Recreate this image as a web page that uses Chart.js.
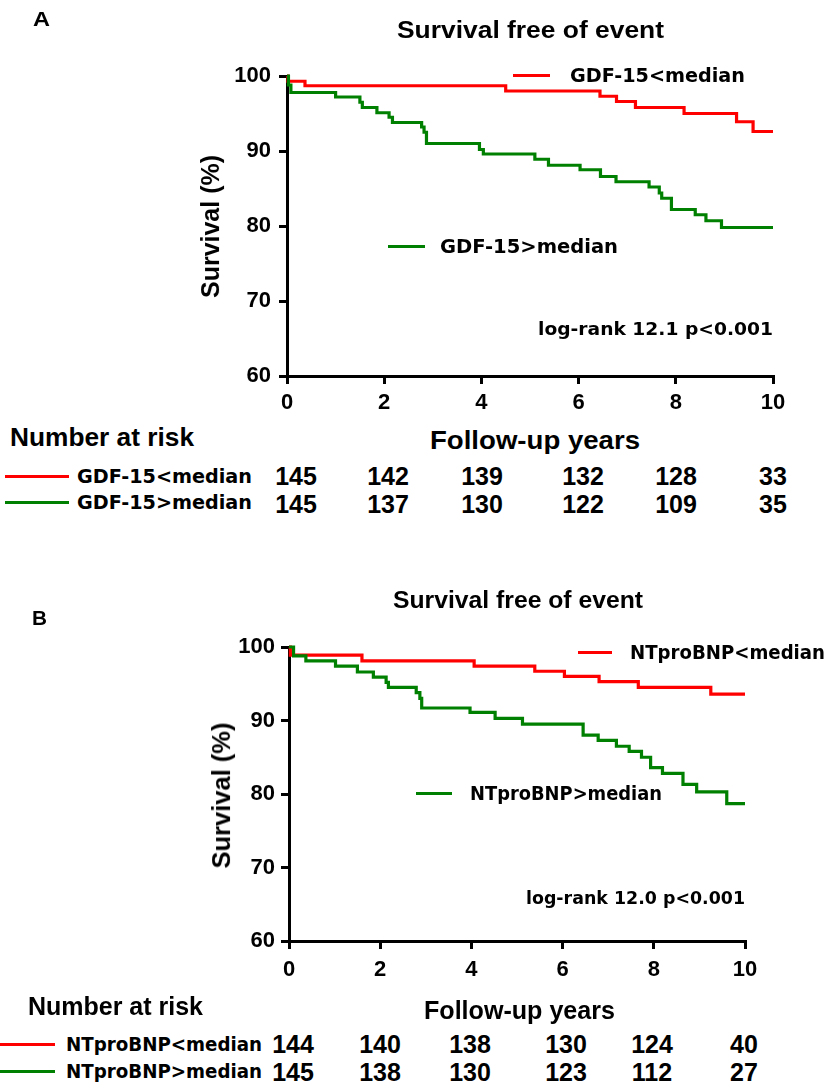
<!DOCTYPE html>
<html>
<head>
<meta charset="utf-8">
<script src="https://cdn.jsdelivr.net/npm/chart.js@4.4.1/dist/chart.umd.min.js"></script>
<style>
  html, body { margin: 0; padding: 0; background: #fff; }
  #wrap { position: relative; width: 827px; height: 1084px; overflow: hidden; background: #fff; }
  canvas { position: absolute; left: 0; }
  .t { position: absolute; white-space: nowrap; font-weight: bold; color: #000; line-height: 1; }
  .ln { position: absolute; height: 3px; }
</style>
</head>
<body>
<div id="wrap">
  <canvas id="cA" width="827" height="420" style="top:0px"></canvas>
  <canvas id="cB" width="827" height="440" style="top:560px"></canvas>
</div>
<script>
// ---------------- DATA ----------------
const xTicks = [0, 2, 4, 6, 8, 10];
const yTicks = [60, 70, 80, 90, 100];

// Panel A: GDF-15
const timeA_low  = [0, 0.02, 0.37, 4.5, 6.44, 6.78, 7.17, 8.17, 9.25, 9.59, 10];
const survA_low  = [100, 99.3, 98.7, 98.0, 97.3, 96.6, 95.8, 95.0, 93.9, 92.6, 92.6];
const timeA_high = [0, 0.03, 0.08, 1.0, 1.5, 1.55, 1.85, 2.1, 2.17, 2.77, 2.82, 2.87, 3.96, 4.04, 5.1, 5.38, 6.03, 6.45, 6.77, 7.45, 7.66, 7.71, 7.91, 8.4, 8.62, 8.94, 10];
const survA_high = [100, 98.8, 97.8, 97.2, 96.5, 95.8, 95.1, 94.5, 93.8, 93.2, 92.5, 91.0, 90.2, 89.6, 88.9, 88.1, 87.5, 86.6, 85.9, 85.2, 84.4, 83.7, 82.2, 81.5, 80.7, 79.8, 79.8];

// Panel B: NTproBNP
const timeB_low  = [0, 0.03, 1.6, 4.06, 5.39, 6.04, 6.8, 7.66, 9.25, 10];
const survB_low  = [100, 98.9, 98.1, 97.4, 96.7, 96.0, 95.3, 94.5, 93.6, 93.6];
const timeB_high = [0, 0.1, 0.37, 1.02, 1.5, 1.85, 2.13, 2.18, 2.79, 2.87, 2.91, 3.97, 4.52, 5.12, 6.45, 6.78, 7.18, 7.46, 7.73, 7.93, 8.19, 8.64, 8.94, 9.6, 10];
const survB_high = [100, 98.8, 98.1, 97.4, 96.6, 95.9, 95.2, 94.5, 93.8, 93.0, 91.7, 91.1, 90.3, 89.5, 88.0, 87.3, 86.5, 85.8, 85.0, 83.6, 82.8, 81.3, 80.3, 78.7, 78.7];

// Number at risk
const riskA_low  = [145, 142, 139, 132, 128, 33];
const riskA_high = [145, 137, 130, 122, 109, 35];
const riskB_low  = [144, 140, 138, 130, 124, 40];
const riskB_high = [145, 138, 130, 123, 112, 27];

const labelA_low = 'GDF-15<median', labelA_high = 'GDF-15>median';
const labelB_low = 'NTproBNP<median', labelB_high = 'NTproBNP>median';

const RED = '#ff0000', GREEN = '#008000';

// ---------------- CHARTS ----------------
function pts(t, s) { return t.map((v, i) => ({ x: v, y: s[i] })); }

function makeChart(id, dsets, cfg) {
  const tickFont = { family: 'Liberation Sans, Arial, sans-serif', weight: 'bold', size: 22 };
  return new Chart(document.getElementById(id), {
    type: 'line',
    data: {
      datasets: dsets.map(d => ({
        data: pts(d.t, d.s), borderColor: d.c, backgroundColor: d.c, borderWidth: 3.2,
        stepped: 'before', pointRadius: 0, fill: false, clip: false, tension: 0
      }))
    },
    options: {
      responsive: false, animation: false, events: [],
      layout: { padding: cfg.pad },
      plugins: { legend: { display: false }, tooltip: { enabled: false }, title: { display: false } },
      scales: {
        x: {
          type: 'linear', min: 0, max: 10,
          afterBuildTicks: s => { s.ticks = xTicks.map(v => ({ value: v })); },
          ticks: { color: '#000', font: tickFont, padding: cfg.xPad, maxRotation: 0, autoSkip: false },
          grid: { drawOnChartArea: false, drawTicks: true, tickLength: 8, color: '#000', lineWidth: 3 },
          border: { color: '#000', width: 3 },
          afterFit: s => { s.height = cfg.xH; }
        },
        y: {
          type: 'linear', min: 60, max: 100,
          afterBuildTicks: s => { s.ticks = yTicks.map(v => ({ value: v })); },
          ticks: { color: '#000', font: tickFont, padding: cfg.yPad, autoSkip: false },
          grid: { drawOnChartArea: false, drawTicks: true, tickLength: 8, color: '#000', lineWidth: 3 },
          border: { color: '#000', width: 3 },
          afterFit: s => { s.width = cfg.yW; }
        }
      }
    }
  });
}

makeChart('cA', [
  { t: timeA_high, s: survA_high, c: GREEN },
  { t: timeA_low, s: survA_low, c: RED }
], { pad: { left: 200, right: 54, top: 76, bottom: 0 }, yW: 87, xH: 44, xPad: 6, yPad: 8 });

makeChart('cB', [
  { t: timeB_high, s: survB_high, c: GREEN },
  { t: timeB_low, s: survB_low, c: RED }
], { pad: { left: 200, right: 82, top: 87, bottom: 15 }, yW: 89, xH: 44, xPad: 8, yPad: 6 });

// ---------------- TEXT ----------------
const wrap = document.getElementById('wrap');
const ARIAL = 'Liberation Sans, Arial, sans-serif';
const VERD = 'DejaVu Sans, Verdana, sans-serif';

function fitText(str, x0, x1, cy, size, fam) {
  const e = document.createElement('div');
  e.className = 't'; e.textContent = str;
  e.style.fontSize = size + 'px'; e.style.fontFamily = fam;
  e.style.left = x0 + 'px'; e.style.top = (cy - size / 2) + 'px';
  wrap.appendChild(e);
  const w = e.getBoundingClientRect().width;
  e.style.transformOrigin = 'left center';
  e.style.transform = 'scaleX(' + ((x1 - x0) / w) + ')';
}
function centerText(str, cx, cy, size, fam) {
  const e = document.createElement('div');
  e.className = 't'; e.textContent = str;
  e.style.fontSize = size + 'px'; e.style.fontFamily = fam;
  wrap.appendChild(e);
  const w = e.getBoundingClientRect().width;
  e.style.left = (cx - w / 2) + 'px'; e.style.top = (cy - size / 2) + 'px';
}
function vertText(str, cx, cy, len, size, fam) {
  const e = document.createElement('div');
  e.className = 't'; e.textContent = str;
  e.style.fontSize = size + 'px'; e.style.fontFamily = fam;
  wrap.appendChild(e);
  const w = e.getBoundingClientRect().width;
  e.style.left = (cx - w / 2) + 'px'; e.style.top = (cy - size / 2) + 'px';
  e.style.transformOrigin = 'center center';
  e.style.transform = 'rotate(-90deg) scaleX(' + (len / w) + ')';
}
function line(x0, x1, cy, color) {
  const e = document.createElement('div');
  e.className = 'ln';
  e.style.left = x0 + 'px'; e.style.width = (x1 - x0) + 'px';
  e.style.top = (cy - 1.5) + 'px'; e.style.background = color;
  wrap.appendChild(e);
}

// Panel A
fitText('A', 33, 50, 18, 21, ARIAL);
fitText('Survival free of event', 397, 664, 30, 24, ARIAL);
vertText('Survival (%)', 211, 226, 143, 25, ARIAL);
line(513, 550, 75, RED);   fitText(labelA_low, 570, 745, 75, 19, VERD);
line(388, 425, 246, GREEN); fitText(labelA_high, 440, 618, 246, 19, VERD);
fitText('log-rank 12.1 p<0.001', 538, 773, 329, 18, VERD);
fitText('Number at risk', 10, 194, 437, 25, ARIAL);
fitText('Follow-up years', 430, 640, 440, 25, ARIAL);
const colA = [296, 388, 482, 583, 676, 773];
line(5, 69, 476, RED);   fitText(labelA_low, 77, 252, 476, 19, VERD);
line(5, 69, 502, GREEN); fitText(labelA_high, 77, 252, 502, 19, VERD);
riskA_low.forEach((v, i) => centerText(String(v), colA[i], 476, 25, ARIAL));
riskA_high.forEach((v, i) => centerText(String(v), colA[i], 504, 25, ARIAL));

// Panel B
fitText('B', 32, 47, 617, 21, ARIAL);
fitText('Survival free of event', 393, 643, 600, 24, ARIAL);
vertText('Survival (%)', 222, 795, 146, 25, ARIAL);
line(578, 612, 652, RED);   fitText(labelB_low, 630, 825, 652, 19, VERD);
line(416, 452, 793, GREEN); fitText(labelB_high, 470, 662, 793, 19, VERD);
fitText('log-rank 12.0 p<0.001', 526, 745, 898, 18, VERD);
fitText('Number at risk', 28, 203, 1006, 25, ARIAL);
fitText('Follow-up years', 424, 615, 1010, 25, ARIAL);
const colB = [293, 380, 470, 566, 652, 744];
line(0, 55, 1044, RED);   fitText(labelB_low, 66, 262, 1044, 19, VERD);
line(0, 55, 1071, GREEN); fitText(labelB_high, 66, 262, 1071, 19, VERD);
riskB_low.forEach((v, i) => centerText(String(v), colB[i], 1044, 25, ARIAL));
riskB_high.forEach((v, i) => centerText(String(v), colB[i], 1072, 25, ARIAL));
</script>
</body>
</html>
